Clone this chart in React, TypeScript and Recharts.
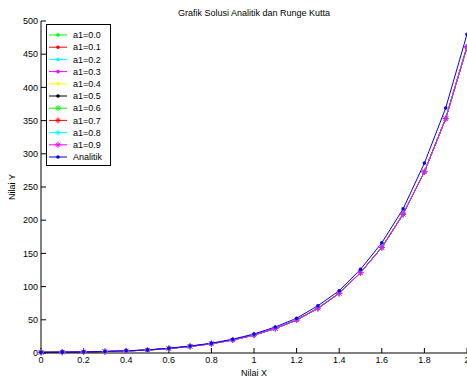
import React from "react";
import {
  LineChart,
  Line,
  XAxis,
  YAxis,
  Legend,
} from "recharts";

// data
const xValues = [0, 0.1, 0.2, 0.3, 0.4, 0.5, 0.6, 0.7, 0.8, 0.9, 1.0, 1.1, 1.2, 1.3, 1.4, 1.5, 1.6, 1.7, 1.8, 1.9, 2.0];
const analitik = [1, 1.3, 1.7, 2.3, 3.3, 4.7, 7.2, 10.5, 14.8, 20.8, 28.6, 39.2, 52.3, 71.2, 93.8, 126, 166, 217, 286, 369, 480];
// all runge kutta runs lie on top of each other in the picture
const rungeKutta = [1, 1.3, 1.7, 2.2, 3.1, 4.4, 6.8, 9.9, 14.0, 19.6, 27.0, 36.9, 49.7, 67.3, 89.9, 121, 159, 209, 273, 353, 461];

const a1Labels = ["a1=0.0", "a1=0.1", "a1=0.2", "a1=0.3", "a1=0.4", "a1=0.5", "a1=0.6", "a1=0.7", "a1=0.8", "a1=0.9"];
const a1Colors = ["#00ff00", "#ff0000", "#00ffff", "#ff00ff", "#ffff00", "#000000", "#00ff00", "#ff0000", "#00ffff", "#ff00ff"];
const a1Markers = ["dot", "dot", "dot", "dot", "dot", "dot", "star", "star", "star", "star"];

const xTicks = [0, 0.2, 0.4, 0.6, 0.8, 1, 1.2, 1.4, 1.6, 1.8, 2];
const yTicks = [0, 50, 100, 150, 200, 250, 300, 350, 400, 450, 500];

const chartTitle = "Grafik Solusi Analitik dan Runge Kutta";

const FONT = "'Liberation Sans', Arial, sans-serif";

const chartData = xValues.map((x, i) => {
  const row: Record<string, number> = { x, analitik: analitik[i] };
  a1Labels.forEach((_, k) => {
    row["rk" + k] = rungeKutta[i];
  });
  return row;
});

const drawMarker = (kind: string, cx: number, cy: number, color: string, key?: string) => {
  if (kind === "star") {
    const s = 3;
    return (
      <g key={key} stroke={color} strokeWidth={1}>
        <line x1={cx - s} y1={cy} x2={cx + s} y2={cy} />
        <line x1={cx} y1={cy - s} x2={cx} y2={cy + s} />
        <line x1={cx - 2} y1={cy - 2} x2={cx + 2} y2={cy + 2} />
        <line x1={cx - 2} y1={cy + 2} x2={cx + 2} y2={cy - 2} />
      </g>
    );
  }
  return <circle key={key} cx={cx} cy={cy} r={1.8} fill={color} stroke="none" />;
};

const makeDot = (kind: string, color: string) => (props: any) => {
  const { cx, cy, index } = props;
  if (cx == null || cy == null) return <g key={"d" + index} />;
  return drawMarker(kind, cx, cy, color, "d" + index);
};

const legendItems = [
  ...a1Labels.map((name, k) => ({ name, color: a1Colors[k], marker: a1Markers[k] })),
  { name: "Analitik", color: "#0000ff", marker: "dot" },
];

const LegendBox = () => (
  <svg width={65} height={142} style={{ display: "block" }}>
    <rect x={0.5} y={0.5} width={64} height={141} fill="#fff" stroke="#000" strokeWidth={1} />
    {legendItems.map((item, i) => {
      const cy = 11 + i * 12.2;
      return (
        <g key={item.name}>
          <line x1={3} y1={cy} x2={21} y2={cy} stroke={item.color} strokeWidth={1} />
          {drawMarker(item.marker, 12, cy, item.color)}
          <text x={27} y={cy} dy="0.35em" fontSize={9} fontFamily={FONT} fill="#000">
            {item.name}
          </text>
        </g>
      );
    })}
  </svg>
);

const YTitle = (props: any) => {
  const { viewBox } = props;
  const x = viewBox.x + 12;
  const y = viewBox.y + viewBox.height / 2;
  return (
    <text x={x} y={y} transform={`rotate(-90 ${x} ${y})`} textAnchor="middle" dy="0.35em" fontSize={9} fontFamily={FONT} fill="#000">
      Nilai Y
    </text>
  );
};

// title sits on the bottom axis label so it always renders
const XTitles = (props: any) => {
  const { viewBox } = props;
  const cx = viewBox.x + viewBox.width / 2;
  return (
    <g fontSize={9} fontFamily={FONT} fill="#000">
      <text x={cx} y={viewBox.y + viewBox.height - 7} dy="0.35em" textAnchor="middle">
        Nilai X
      </text>
      <text x={cx} y={13} dy="0.35em" textAnchor="middle">
        {chartTitle}
      </text>
    </g>
  );
};

const tickStyle = { fontSize: 9, fontFamily: FONT, fill: "#000" };

export default function App() {
  return (
    <div style={{ position: "absolute", left: 0, top: 0, width: 467, height: 380, overflow: "hidden", background: "#fff" }}>
      <LineChart width={500} height={380} data={chartData} margin={{ top: 21, right: 33, left: 0, bottom: 0 }}>
        <XAxis
          dataKey="x"
          type="number"
          domain={[0, 2]}
          ticks={xTicks}
          height={27}
          stroke="#000"
          tick={tickStyle}
          tickSize={-5}
          tickMargin={9}
          interval={0}
          label={<XTitles />}
        />
        <XAxis
          xAxisId="top"
          orientation="top"
          dataKey="x"
          type="number"
          domain={[0, 2]}
          ticks={xTicks}
          height={0}
          stroke="#000"
          tick={tickStyle}
          tickFormatter={() => ""}
          tickSize={-5}
          interval={0}
        />
        <YAxis
          type="number"
          domain={[0, 500]}
          ticks={yTicks}
          width={41}
          stroke="#000"
          tick={tickStyle}
          tickSize={-5}
          tickMargin={8}
          interval={0}
          label={<YTitle />}
        />
        <Legend
          layout="vertical"
          align="center"
          verticalAlign="middle"
          content={() => <LegendBox />}
          wrapperStyle={{ position: "absolute", left: 46, top: 24, width: 65, height: 142 }}
        />
        {a1Labels.map((name, k) => (
          <Line
            key={name}
            name={name}
            dataKey={"rk" + k}
            type="linear"
            stroke={a1Colors[k]}
            strokeWidth={1}
            dot={makeDot(a1Markers[k], a1Colors[k])}
            activeDot={false}
            isAnimationActive={false}
          />
        ))}
        <Line
          name="Analitik"
          dataKey="analitik"
          type="linear"
          stroke="#0000ff"
          strokeWidth={1}
          dot={makeDot("dot", "#0000ff")}
          activeDot={false}
          isAnimationActive={false}
        />
      </LineChart>
    </div>
  );
}
